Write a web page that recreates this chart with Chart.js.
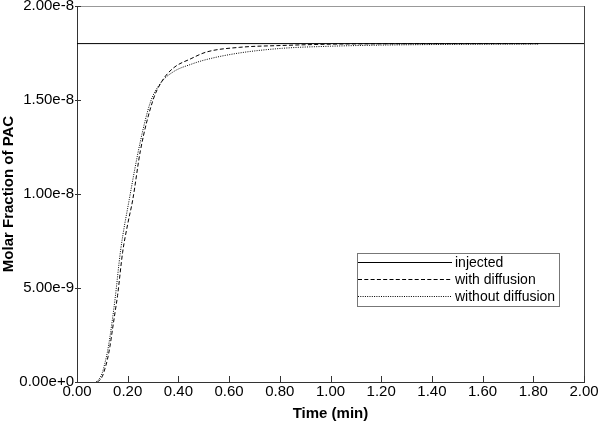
<!DOCTYPE html>
<html>
<head>
<meta charset="utf-8">
<script src="https://cdn.jsdelivr.net/npm/chart.js@4/dist/chart.umd.min.js"></script>
<style>
  html, body { margin: 0; padding: 0; background: #fff; }
  #wrap { width: 600px; height: 425px; position: relative; }
</style>
</head>
<body>
<div id="wrap"><canvas id="pacChart"></canvas></div>
<script>
/* ---------- data ---------- */
const xTicks = [0, 0.2, 0.4, 0.6, 0.8, 1.0, 1.2, 1.4, 1.6, 1.8, 2.0];
const yTicks = [0, 5e-9, 1e-8, 1.5e-8, 2e-8];

const injectedTime = [0, 2.0];
const injectedFrac = [1.8e-8, 1.8e-8];

const withDiffTime = [0.08, 0.09, 0.10, 0.11, 0.12, 0.13, 0.14, 0.15, 0.16, 0.18, 0.20, 0.22, 0.25, 0.30, 0.335, 0.38, 0.45, 0.51, 0.64, 0.81, 1.0, 1.2, 1.5, 1.82];
const withDiffFrac = [0, 1e-10, 3e-10, 7e-10, 1.2e-9, 1.9e-9, 2.8e-9, 3.7e-9, 4.6e-9, 6.9e-9, 8.4e-9, 9.7e-9, 1.23e-8, 1.5e-8, 1.6e-8, 1.67e-8, 1.72e-8, 1.755e-8, 1.78e-8, 1.79e-8, 1.797e-8, 1.799e-8, 1.8e-8, 1.8e-8];

const noDiffTime = [0.075, 0.09, 0.10, 0.11, 0.12, 0.13, 0.15, 0.172, 0.206, 0.25, 0.29, 0.33, 0.38, 0.45, 0.51, 0.64, 0.81, 1.0, 1.2, 1.5, 1.82];
const noDiffFrac = [0, 2e-10, 5e-10, 1.0e-9, 1.6e-9, 2.4e-9, 4.4e-9, 7.0e-9, 9.7e-9, 1.28e-8, 1.49e-8, 1.59e-8, 1.65e-8, 1.69e-8, 1.715e-8, 1.75e-8, 1.775e-8, 1.786e-8, 1.792e-8, 1.796e-8, 1.798e-8];

const pts = (xs, ys) => xs.map((x, i) => ({ x, y: ys[i] }));

const FONT = 'Liberation Sans, Arial, sans-serif';

/* ---------- frame, inward ticks, legend box ---------- */
const framePlugin = {
  id: 'frame',
  afterDraw(chart) {
    const { ctx, chartArea: a, scales } = chart;
    ctx.save();
    ctx.lineWidth = 1;
    // top border is lighter than the rest
    ctx.strokeStyle = '#999';
    ctx.beginPath();
    ctx.moveTo(a.left, a.top + 0.5);
    ctx.lineTo(a.right, a.top + 0.5);
    ctx.stroke();
    ctx.strokeStyle = '#444';
    ctx.beginPath();
    ctx.moveTo(a.right + 0.5, a.top);
    ctx.lineTo(a.right + 0.5, a.bottom);
    ctx.stroke();

    ctx.strokeStyle = '#333';
    ctx.beginPath();
    xTicks.forEach(v => {
      const px = Math.round(scales.x.getPixelForValue(v)) + 0.5;
      ctx.moveTo(px, a.bottom);
      ctx.lineTo(px, a.bottom - 6);
    });
    yTicks.forEach(v => {
      const py = Math.round(scales.y.getPixelForValue(v)) + 0.5;
      ctx.moveTo(a.left - 2, py);
      ctx.lineTo(a.left + 4, py);
    });
    ctx.stroke();

    // legend
    const bx = 357, by = 253, bw = 202, bh = 53;
    ctx.fillStyle = '#fff';
    ctx.fillRect(bx, by, bw, bh);
    ctx.strokeStyle = '#777';
    ctx.strokeRect(bx + 0.5, by + 0.5, bw, bh);
    ctx.font = '14px ' + FONT;
    ctx.textBaseline = 'middle';
    chart.data.datasets.forEach((ds, i) => {
      const y = by + 9.5 + i * 17;
      ctx.strokeStyle = ds.borderColor;
      ctx.lineWidth = ds.borderWidth;
      ctx.setLineDash(ds.borderDash || []);
      ctx.beginPath();
      ctx.moveTo(bx + 1, y);
      ctx.lineTo(bx + 95, y);
      ctx.stroke();
      ctx.setLineDash([]);
      ctx.fillStyle = '#000';
      ctx.fillText(ds.label, bx + 98, y + 1);
    });
    ctx.restore();
  }
};

new Chart(document.getElementById('pacChart'), {
  type: 'line',
  data: {
    datasets: [
      {
        label: 'injected',
        data: pts(injectedTime, injectedFrac),
        borderColor: '#000',
        borderWidth: 1,
        pointRadius: 0
      },
      {
        label: 'with diffusion',
        data: pts(withDiffTime, withDiffFrac),
        borderColor: '#000',
        borderWidth: 1,
        borderDash: [4, 2.3],
        pointRadius: 0,
        cubicInterpolationMode: 'monotone'
      },
      {
        label: 'without diffusion',
        data: pts(noDiffTime, noDiffFrac),
        borderColor: '#000',
        borderWidth: 1,
        borderDash: [1, 1.3],
        pointRadius: 0,
        cubicInterpolationMode: 'monotone'
      }
    ]
  },
  options: {
    responsive: true,
    maintainAspectRatio: false,
    animation: false,
    layout: { padding: { top: 6, right: 16, left: 0, bottom: 0 } },
    plugins: {
      legend: { display: false },
      tooltip: { enabled: false }
    },
    scales: {
      x: {
        type: 'linear',
        min: 0,
        max: 2,
        afterBuildTicks: s => { s.ticks = xTicks.map(v => ({ value: v })); },
        afterFit: s => { s.height = 43; s.paddingRight = 0; s.paddingLeft = 0; },
        grid: { drawOnChartArea: false, drawTicks: false, color: '#333' },
        border: { color: '#333' },
        ticks: {
          color: '#000',
          padding: 1,
          font: { size: 15, family: FONT },
          maxRotation: 0,
          callback: v => Number(v).toFixed(2)
        },
        title: {
          display: true,
          text: 'Time (min)',
          color: '#000',
          padding: { top: 2, bottom: 2 },
          font: { size: 15, weight: 'bold', family: FONT }
        }
      },
      y: {
        min: 0,
        max: 2e-8,
        afterBuildTicks: s => { s.ticks = yTicks.map(v => ({ value: v })); },
        afterFit: s => { s.width = 77; s.paddingTop = 0; s.paddingBottom = 0; },
        grid: { drawOnChartArea: false, drawTicks: false, color: '#333' },
        border: { color: '#333' },
        ticks: {
          color: '#000',
          padding: 3,
          font: { size: 15, family: FONT },
          callback: v => Number(v).toExponential(2)
        },
        title: {
          display: true,
          text: 'Molar Fraction of PAC',
          color: '#000',
          padding: { top: 0, bottom: 0 },
          font: { size: 15, weight: 'bold', family: FONT }
        }
      }
    }
  },
  plugins: [framePlugin]
});
</script>
</body>
</html>
